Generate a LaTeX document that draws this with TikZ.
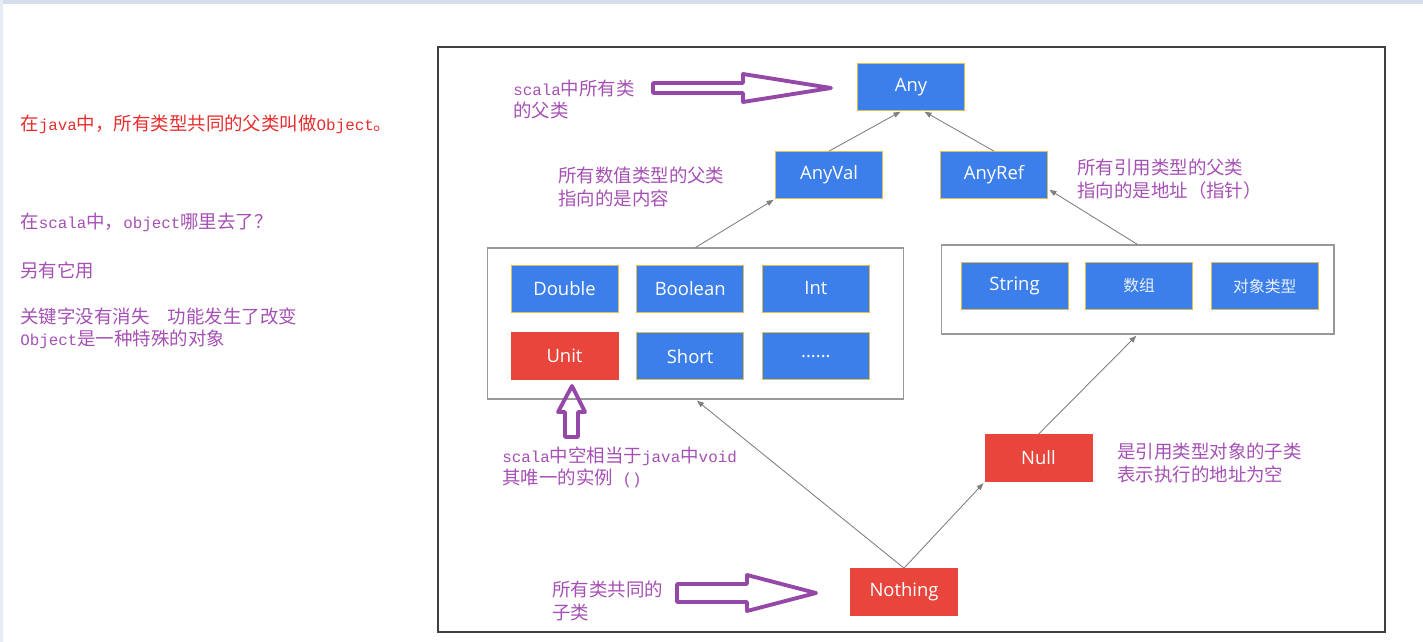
\documentclass[tikz,border=0pt]{standalone}
\usepackage{fontspec}
\setmainfont{Open Sans}
\newfontfamily\cjk{Noto Sans CJK SC}
\newfontfamily\monolat{Liberation Mono}[Scale=0.86]
\newcommand{\asc}[1]{{\monolat #1}}
\usetikzlibrary{positioning, arrows.meta}
\definecolor{boxblue}{RGB}{61,127,234}
\definecolor{boxred}{RGB}{232,69,60}
\definecolor{boxedge}{RGB}{222,190,80}
\definecolor{notepurple}{RGB}{165,80,180}
\definecolor{arrowpurple}{RGB}{150,72,168}
\definecolor{notered}{RGB}{232,45,45}
\definecolor{linegray}{RGB}{128,128,128}
\definecolor{winband}{RGB}{214,222,235}
\tikzset{
  typebox/.style={
    draw=boxedge,
    line width=0.4pt,
    rectangle,
    minimum width=2.14cm,
    minimum height=0.94cm,
    fill=boxblue,
    text=white,
    font=\fontsize{10.5pt}{12pt}\selectfont
  },
  redbox/.style={typebox, fill=boxred, draw=boxred},
  cnbox/.style={typebox, text=white!88!boxblue, font=\cjk\fontsize{9pt}{11pt}\selectfont},
  group/.style={
    draw=linegray!80,
    line width=0.6pt,
    rectangle,
    fill=white
  },
  note/.style={
    text=notepurple,
    anchor=west,
    align=left,
    inner sep=0pt,
    font=\cjk\fontsize{10.5pt}{12.8pt}\selectfont
  },
  inherit/.style={
    draw=linegray,
    line width=0.5pt,
    -{Triangle[length=4pt, width=3pt]},
    shorten >=1pt
  },
  hollow/.style={draw=arrowpurple, line width=2.2pt, line join=round}
}

\begin{document}
\begin{tikzpicture}[x=0.02cm, y=-0.02cm]
    \useasboundingbox (0,0) rectangle (1423,642);
    \fill[winband] (0,0) rectangle (1423,4);
    \fill[winband!60] (0,0) rectangle (3,642);

    % left column notes
    \node[note, text=notered] (javanote) at (20,124) {在\asc{java}中，所有类型共同的父类叫做\asc{Object}。};
    \node[note] (objnote) at (20,222) {在\asc{scala}中，\asc{object}哪里去了？};
    \node[note] (usenote) at (20,270) {另有它用};
    \node[note] (kwnote) at (20,328.5) {关键字没有消失\hspace{1em}功能发生了改变\\\asc{Object}是一种特殊的对象};

    \node[draw=black!75, line width=0.8pt, minimum width=18.94cm, minimum height=11.7cm] (frame) at (911.5,339.5) {};

    \node[typebox] (any) at (911,87) {Any};
    \node[typebox] (anyval) at (829,175) {AnyVal};
    \node[typebox] (anyref) at (994,175) {AnyRef};

    \node[group, minimum width=8.34cm, minimum height=3.02cm] (valgroup) at (695.5,323.5) {};
    \node[typebox] (dbl) at (564.5,288.5) {Double};
    \node[typebox, right=0.36cm of dbl] (bool) {Boolean};
    \node[typebox, right=0.36cm of bool] (int) {Int};
    \node[redbox, below=0.4cm of dbl] (unit) {Unit};
    \node[typebox, right=0.36cm of unit] (short) {Short};
    \node[typebox, right=0.36cm of short] (more) {......};

    \node[group, minimum width=7.86cm, minimum height=1.78cm] (refgroup) at (1137.5,289.5) {};
    \node[typebox] (str) at (1014.5,286) {String};
    \node[cnbox, right=0.34cm of str] (arr) {数组};
    \node[cnbox, right=0.36cm of arr] (obj) {对象类型};

    \node[redbox] (null) at (1038.5,458) {Null};
    \node[redbox] (nothing) at (904,592) {Nothing};

    \draw[inherit] (anyval.north) -- ([xshift=-0.18cm]any.south);
    \draw[inherit] (anyref.north) -- ([xshift=0.24cm]any.south);
    \draw[inherit] (valgroup.north) -- (anyval.south west);
    \draw[inherit] (refgroup.north) -- ([yshift=0.2cm]anyref.south east);
    \draw[inherit] (null.north) -- (refgroup.south);
    \draw[inherit] (nothing.north) -- (null.south west);
    \draw[inherit] (nothing.north) -- (valgroup.south);

    % notes inside the frame
    \node[note] (anynote) at (513,99.5) {\asc{scala}中所有类\\的父类};
    \node[note] (valnote) at (558,187) {所有数值类型的父类\\指向的是内容};
    \node[note] (refnote) at (1077,179) {所有引用类型的父类\\指向的是地址（指针）};
    \node[note] (unitnote) at (502,467.5) {\asc{scala}中空相当于\asc{java}中\asc{void}\\其唯一的实例\asc{ ()}};
    \node[note] (nullnote) at (1117,463) {是引用类型对象的子类\\表示执行的地址为空};
    \node[note] (nothingnote) at (552,601) {所有类共同的\\子类};

    % hollow pointers
    \draw[hollow] (653,83) -- (743,83) -- (743,74) -- (831,88) -- (743,102) -- (743,93) -- (653,93) -- cycle;
    \draw[hollow] (677,584) -- (747,584) -- (747,575) -- (816,593) -- (747,611) -- (747,602) -- (677,602) -- cycle;
    \draw[hollow] (565,437) -- (565,412) -- (558,412) -- (572,386) -- (585,412) -- (578,412) -- (578,437) -- cycle;
\end{tikzpicture}
\end{document}
